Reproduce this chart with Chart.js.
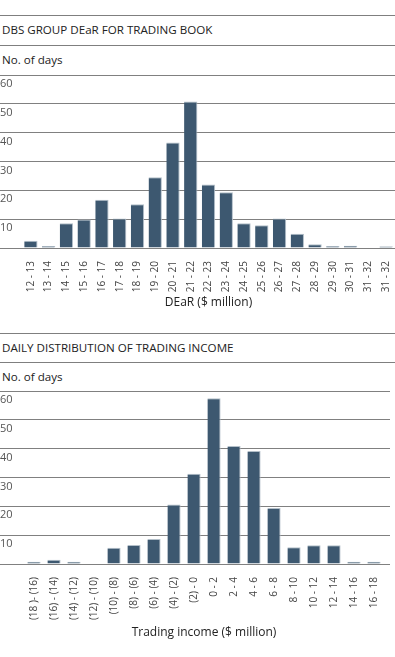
<!DOCTYPE html>
<html>
<head>
<meta charset="utf-8">
<script src="https://cdn.jsdelivr.net/npm/chart.js@4/dist/chart.umd.min.js"></script>
<style>
  body { margin: 0; background: #fff; font-family: "Open Sans", sans-serif; color: #222; }
  .wrap { position: relative; width: 395px; height: 657px; overflow: hidden; }
  .rule { position: absolute; left: 0; width: 395px; height: 0; border-top: 1px solid #7f7f7f; }
  .txt { position: absolute; left: 2px; font-size: 11.6px; line-height: 14px; white-space: nowrap; }
  canvas { position: absolute; left: 0; }
</style>
</head>
<body>
<div class="wrap">
  <div class="rule" style="top:15px"></div>
  <div class="txt" style="top:23px">DBS GROUP DEaR FOR TRADING BOOK</div>
  <div class="rule" style="top:45px"></div>
  <div class="txt" style="top:53px">No. of days</div>
  <div style="position:absolute;top:70px;left:0;width:395px;height:240px">
    <canvas id="dearChart"></canvas>
  </div>

  <div class="rule" style="top:333px"></div>
  <div class="txt" style="top:341px">DAILY DISTRIBUTION OF TRADING INCOME</div>
  <div class="rule" style="top:362px"></div>
  <div class="txt" style="top:370px">No. of days</div>
  <div style="position:absolute;top:386px;left:0;width:395px;height:254px">
    <canvas id="incomeChart"></canvas>
  </div>
</div>
<script>
// DEaR chart data
const dearLabels = ["12 - 13", "13 - 14", "14 - 15", "15 - 16", "16 - 17", "17 - 18", "18 - 19",
  "19 - 20", "20 - 21", "21 - 22", "22 - 23", "23 - 24", "24 - 25", "25 - 26", "26 - 27",
  "27 - 28", "28 - 29", "29 - 30", "30 - 31", "31 - 32", "31 - 32"];
const dearDays = [2.5, 0.7, 8.6, 9.9, 16.7, 10.2, 15.2, 24.5, 36.6, 50.8, 22, 19.3, 8.6, 7.9, 10.2,
  4.9, 1.3, 0.7, 0.8, 0, 0.6];

// trading income chart data
const incomeLabels = ["(18 )- (16)", "(16) - (14)", "(14) - (12)", "(12) - (10)", "(10) - (8)",
  "(8) - (6)", "(6) - (4)", "(4) - (2)", "(2) - 0", "0 - 2", "2 - 4", "4 - 6", "6 - 8",
  "8 - 10", "10 - 12", "12 - 14", "14 - 16", "16 - 18"];
const incomeDays = [0.8, 1.5, 0.8, 0, 5.6, 6.6, 8.7, 20.6, 31.3, 57.5, 40.9, 39.2, 19.4,
  5.8, 6.5, 6.5, 0.8, 0.8];

const yTicks = [0, 10, 20, 30, 40, 50, 60];

const barColor = "#3d5870";
const gridColor = "#808080";

function makeChart(id, labels, values, opts) {
  const ctx = document.getElementById(id).getContext("2d");
  return new Chart(ctx, {
    type: "bar",
    data: {
      labels: labels,
      datasets: [{
        data: values,
        backgroundColor: barColor,
        borderColor: "#b3bfc9",
        borderWidth: { top: 1, right: 1, left: 0, bottom: 0 },
        borderSkipped: "start",
        barPercentage: opts.barPct,
        categoryPercentage: 1
      }]
    },
    options: {
      responsive: true,
      maintainAspectRatio: false,
      animation: false,
      layout: { padding: { top: 5, right: opts.padRight, left: 0, bottom: 0 } },
      plugins: { legend: { display: false }, tooltip: { enabled: false } },
      scales: {
        x: {
          grid: { display: false },
          border: { display: false },
          ticks: {
            minRotation: 90, maxRotation: 90, autoSkip: false, padding: 5,
            color: "#444", font: { family: "Open Sans", size: 10 }
          },
          title: {
            display: true, text: opts.xTitle, color: "#222",
            font: { family: "Open Sans", size: 12 }, padding: 0
          },
          afterFit: function (s) {
            s.height = opts.xHeight;
            s.paddingLeft = 0; s.paddingRight = 0;
          }
        },
        y: {
          min: 0, max: 60,
          afterBuildTicks: function (s) { s.ticks = yTicks.map(v => ({ value: v })); },
          grid: { color: gridColor, tickColor: gridColor, tickLength: opts.yWidth, lineWidth: 1 },
          border: { display: false },
          ticks: {
            autoSkip: false, crossAlign: "far", padding: 0, color: "#555",
            font: { family: "Open Sans", size: 11, lineHeight: "18px" },
            callback: function (v) { return v === 0 ? "" : ["", String(v)]; }
          },
          afterFit: function (s) {
            s.width = opts.yWidth;
            s.paddingTop = 0; s.paddingBottom = 0;
          }
        },
        y2: {
          position: "right", min: 0, max: 60, display: opts.tickExt > 0,
          afterBuildTicks: function (s) { s.ticks = yTicks.map(v => ({ value: v })); },
          grid: { drawOnChartArea: false, drawTicks: true, tickColor: gridColor, tickLength: opts.tickExt },
          border: { display: false },
          ticks: { display: false, autoSkip: false },
          afterFit: function (s) { s.width = opts.tickExt; s.paddingTop = 0; s.paddingBottom = 0; }
        }
      }
    }
  });
}

makeChart("dearChart", dearLabels, dearDays,
  { barPct: 0.75, xTitle: "DEaR ($ million)", xHeight: 62, yWidth: 22, padRight: 0, tickExt: 0 });
makeChart("incomeChart", incomeLabels, incomeDays,
  { barPct: 0.66, xTitle: "Trading income ($ million)", xHeight: 76, yWidth: 24, padRight: 5, tickExt: 6 });
</script>
</body>
</html>
